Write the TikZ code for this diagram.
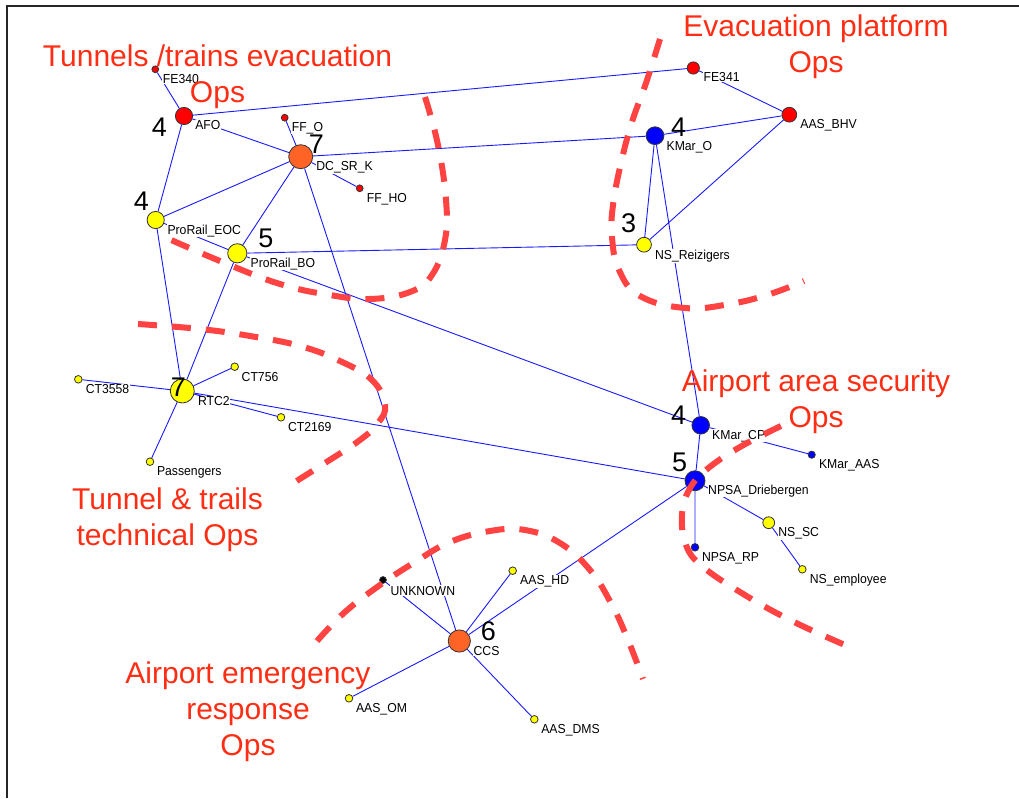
\documentclass[tikz,border=0pt]{standalone}
\usepackage{fontspec}
\setmainfont{Liberation Sans}
\newfontfamily\lblfont[FakeStretch=0.94]{Liberation Sans}
\usetikzlibrary{calc}

\definecolor{zonered}{RGB}{255,66,66}
\definecolor{titlered}{RGB}{255,45,20}
\definecolor{edgeblue}{RGB}{25,25,255}
\definecolor{nodered}{RGB}{255,0,0}
\definecolor{nodeorange}{RGB}{255,100,38}
\definecolor{nodeyellow}{RGB}{255,255,0}
\definecolor{nodeblue}{RGB}{0,0,255}

\tikzset{
  actor/.style={circle,draw=black!80,line width=0.8pt,inner sep=0pt,minimum size=#1},
  redact/.style={actor=#1,fill=nodered},
  orangeact/.style={actor=#1,fill=nodeorange},
  yellowact/.style={actor=#1,fill=nodeyellow},
  blueact/.style={actor=#1,fill=nodeblue},
  blackact/.style={actor=#1,fill=black},
  tie/.style={draw=edgeblue,line width=0.9pt},
  lbl/.style={font=\lblfont\fontsize{13}{13}\selectfont,anchor=base west,fill=white,inner sep=0.6pt},
  degree/.style={font=\fontsize{27}{27}\selectfont,anchor=center,inner sep=0pt},
  % anchor=base sits on the baseline of the last line of a title
  zonetitle/.style={font=\fontsize{30}{36}\selectfont,text=titlered,align=center,anchor=base,inner sep=0pt},
  zone/.style={draw=zonered,line width=6pt,dash pattern=on 19pt off 15pt},
  frameline/.style={draw=black!85,line width=1.8pt}
}

\begin{document}
\begin{tikzpicture}[x=1pt,y=-1pt]
\useasboundingbox (0,0) rectangle (1019,798);

% outer frame (left and top edges)
\coordinate (frameBL) at (7,798);
\coordinate (frameTL) at (7,6);
\coordinate (frameTR) at (1019,6);
\draw[frameline] (frameBL) -- (frameTL) -- (frameTR);

% actor positions
\coordinate (pFE340) at (155.3,69.3);
\coordinate (pAFO) at (184,116);
\coordinate (pFFO) at (284.7,117.7);
\coordinate (pDC) at (300.7,156.7);
\coordinate (pFFHO) at (359.7,188.3);
\coordinate (pEOC) at (155.7,220);
\coordinate (pBO) at (237.3,253.3);
\coordinate (pFE341) at (693.3,68);
\coordinate (pBHV) at (789.3,114.7);
\coordinate (pKMO) at (655,135.7);
\coordinate (pNSR) at (644,244.7);
\coordinate (pRTC) at (182.3,391);
\coordinate (pCT756) at (234.7,366.7);
\coordinate (pCT3558) at (78.3,379.3);
\coordinate (pCT2169) at (281,417.3);
\coordinate (pPASS) at (150,461.7);
\coordinate (pKMCP) at (700.7,425.3);
\coordinate (pKMAAS) at (811.7,454.7);
\coordinate (pNPSA) at (695,480.7);
\coordinate (pNPSARP) at (695,547.3);
\coordinate (pNSSC) at (768.7,522.7);
\coordinate (pNSEMP) at (802.3,569.3);
\coordinate (pUNK) at (383,580);
\coordinate (pAASHD) at (512.7,570.7);
\coordinate (pCCS) at (459.3,641);
\coordinate (pAASOM) at (349,698.3);
\coordinate (pAASDMS) at (534.3,719.3);

% actor circles
\node[redact=6.8] (FE340) at (pFE340) {};
\node[redact=17.2] (AFO) at (pAFO) {};
\node[redact=6.8] (FFO) at (pFFO) {};
\node[orangeact=24] (DC) at (pDC) {};
\node[redact=6.8] (FFHO) at (pFFHO) {};
\node[yellowact=17.2] (EOC) at (pEOC) {};
\node[yellowact=19.2] (BO) at (pBO) {};
\node[redact=12.2] (FE341) at (pFE341) {};
\node[redact=14.8] (BHV) at (pBHV) {};
\node[blueact=17.8] (KMO) at (pKMO) {};
\node[yellowact=14.8] (NSR) at (pNSR) {};
\node[yellowact=24] (RTC) at (pRTC) {};
\node[yellowact=7.6] (CT756) at (pCT756) {};
\node[yellowact=7.6] (CT3558) at (pCT3558) {};
\node[yellowact=7.6] (CT2169) at (pCT2169) {};
\node[yellowact=7.6] (PASS) at (pPASS) {};
\node[blueact=17.6] (KMCP) at (pKMCP) {};
\node[blueact=7.2] (KMAAS) at (pKMAAS) {};
\node[blueact=20] (NPSA) at (pNPSA) {};
\node[blueact=7.6] (NPSARP) at (pNPSARP) {};
\node[yellowact=11.8] (NSSC) at (pNSSC) {};
\node[yellowact=7.6] (NSEMP) at (pNSEMP) {};
\node[blackact=6.8] (UNK) at (pUNK) {};
\node[yellowact=7.6] (AASHD) at (pAASHD) {};
\node[orangeact=22.2] (CCS) at (pCCS) {};
\node[yellowact=7.6] (AASOM) at (pAASOM) {};
\node[yellowact=7.6] (AASDMS) at (pAASDMS) {};

% ties between actors
\path[tie]
  (FE340) -- (AFO)
  (AFO) -- (FE341)
  (AFO) -- (DC)
  (AFO) -- (EOC)
  (FFO) -- (DC)
  (DC) -- (KMO)
  (DC) -- (FFHO)
  (DC) -- (EOC)
  (DC) -- (BO)
  (DC) -- (CCS)
  (EOC) -- (BO)
  (BO) -- (KMCP)
  (EOC) -- (RTC)
  (BO) -- (RTC)
  (BO) -- (NSR)
  (KMO) -- (BHV)
  (KMO) -- (NSR)
  (KMO) -- (KMCP)
  (FE341) -- (BHV)
  (BHV) -- (NSR)
  (RTC) -- (CT756)
  (RTC) -- (CT3558)
  (RTC) -- (CT2169)
  (RTC) -- (PASS)
  (RTC) -- (NPSA)
  (KMCP) -- (NPSA)
  (KMCP) -- (KMAAS)
  (NPSA) -- (NPSARP)
  (NPSA) -- (NSSC)
  (NSSC) -- (NSEMP)
  (NPSA) -- (CCS)
  (CCS) -- (UNK)
  (CCS) -- (AASHD)
  (CCS) -- (AASOM)
  (CCS) -- (AASDMS);

% actor names
\node[lbl] (FE340-l) at ($(FE340.east)+(3,14)$) {FE340};
\node[lbl] (AFO-l) at ($(AFO.east)+(1.5,13.3)$) {AFO};
\node[lbl] (FFO-l) at ($(FFO.east)+(2.5,13.5)$) {FF\_O};
\node[lbl] (DC-l) at ($(DC.east)+(2.5,14)$) {DC\_SR\_K};
\node[lbl] (FFHO-l) at ($(FFHO.east)+(2.5,13.7)$) {FF\_HO};
\node[lbl] (EOC-l) at ($(EOC.east)+(2,14)$) {ProRail\_EOC};
\node[lbl] (BO-l) at ($(BO.east)+(2.5,13.7)$) {ProRail\_BO};
\node[lbl] (FE341-l) at ($(FE341.east)+(3,13.7)$) {FE341};
\node[lbl] (BHV-l) at ($(BHV.east)+(2.5,14)$) {AAS\_BHV};
\node[lbl] (KMO-l) at ($(KMO.east)+(1.5,14.3)$) {KMar\_O};
\node[lbl] (NSR-l) at ($(NSR.east)+(2.5,14.6)$) {NS\_Reizigers};
\node[lbl] (RTC-l) at ($(RTC.east)+(2.5,14.3)$) {RTC2};
\node[lbl] (CT756-l) at ($(CT756.east)+(2,14.3)$) {CT756};
\node[lbl] (CT3558-l) at ($(CT3558.east)+(2.5,14)$) {CT3558};
\node[lbl] (CT2169-l) at ($(CT2169.east)+(2,14)$) {CT2169};
\node[lbl] (PASS-l) at ($(PASS.east)+(2,14)$) {Passengers};
\node[lbl] (KMCP-l) at ($(KMCP.east)+(1.5,13.7)$) {KMar\_CP};
\node[lbl] (KMAAS-l) at ($(KMAAS.east)+(2.5,14)$) {KMar\_AAS};
\node[lbl] (NPSA-l) at ($(NPSA.east)+(2,13.3)$) {NPSA\_Driebergen};
\node[lbl] (NPSARP-l) at ($(NPSARP.east)+(2,14)$) {NPSA\_RP};
\node[lbl] (NSSC-l) at ($(NSSC.east)+(2.5,14)$) {NS\_SC};
\node[lbl] (NSEMP-l) at ($(NSEMP.east)+(2.5,14)$) {NS\_employee};
\node[lbl] (UNK-l) at ($(UNK.east)+(3,15)$) {UNKNOWN};
\node[lbl] (AASHD-l) at ($(AASHD.east)+(2.5,14)$) {AAS\_HD};
\node[lbl] (CCS-l) at ($(CCS.east)+(2,14)$) {CCS};
\node[lbl] (AASOM-l) at ($(AASOM.east)+(2,14)$) {AAS\_OM};
\node[lbl] (AASDMS-l) at ($(AASDMS.east)+(2,14)$) {AAS\_DMS};

% degree counts
\node[degree] (AFO-d) at (159.5,127.5) {4};
\node[degree] (DC-d) at (316.5,144) {7};
\node[degree] (EOC-d) at (141.5,201) {4};
\node[degree] (BO-d) at (266,238) {5};
\node[degree] (KMO-d) at (678.5,127) {4};
\node[degree] (NSR-d) at (628.5,223) {3};
\node[degree] (RTC-d) at (178.5,387) {7};
\node[degree] (KMCP-d) at (678.5,415) {4};
\node[degree] (NPSA-d) at (679.5,462) {5};
\node[degree] (CCS-d) at (488.5,631.5) {6};

% operation zone titles
\node[zonetitle] (zoneTunnels) at (217.5,102) {Tunnels /trains evacuation\\Ops};
\node[zonetitle] (zonePlatform) at (816,72.5) {Evacuation platform\\Ops};
\node[zonetitle] (zoneSecurity) at (816,427.5) {Airport area security\\Ops};
\node[zonetitle] (zoneTechnical) at (167.5,545.5) {Tunnel \& trails\\technical Ops};
\node[zonetitle] (zoneEmergency) at (248,755.5) {Airport emergency\\response\\Ops};

% operation zone boundaries
\draw[zone] plot[smooth,tension=0.7] coordinates {(425,97) (438,145) (446,200) (445,240) (432,275) (410,292) (370,299) (330,295) (280,284) (220,261) (160,235)};
\draw[zone] plot[smooth,tension=0.7] coordinates {(660,39) (646,83) (632,122) (621,163) (613,205) (612,237) (619,270) (640,296) (685,308) (730,304) (770,294) (804,281)};
\draw[zone] plot[smooth,tension=0.7] coordinates {(138,324) (200,329) (250,336) (300,346) (340,361) (372,380) (385,405) (378,423) (360,440) (325,463) (287,487)};
\draw[zone] plot[smooth,tension=0.7] coordinates {(781,426) (740,447) (706,470) (689,490) (682,515) (686,545) (702,566) (740,592) (790,620) (845,645)};
\draw[zone] plot[smooth,tension=0.7] coordinates {(317,641) (345,612) (380,585) (415,562) (450,542) (490,531) (525,530) (560,543) (590,570) (612,605) (628,640) (643,679)};
\end{tikzpicture}
\end{document}
